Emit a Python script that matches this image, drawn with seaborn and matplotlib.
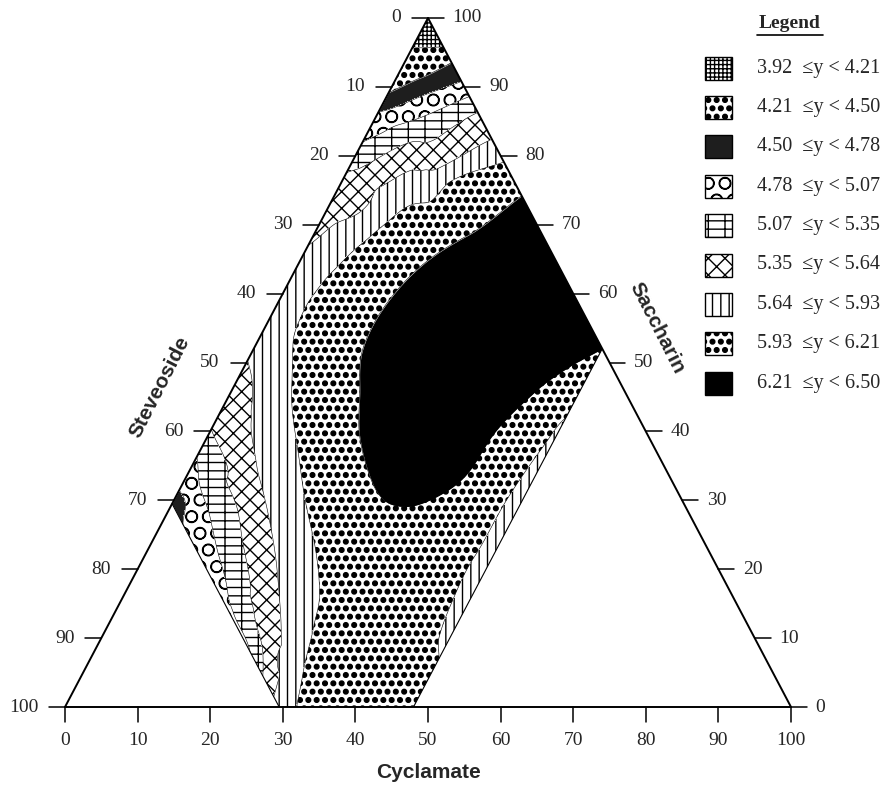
import numpy as np
import pandas as pd
import matplotlib
matplotlib.use("Agg")
import matplotlib.pyplot as plt
import matplotlib.tri as mtri
import matplotlib.hatch as mhatch
from matplotlib.patches import Rectangle
from matplotlib.lines import Line2D
import seaborn as sns

# Response bands of the legend (y = sweetness score)
LEVELS = [3.92, 4.21, 4.50, 4.78, 5.07, 5.35, 5.64, 5.93, 6.21, 6.50]
BAND_FACE = ["white", "white", "#1e1e1e", "white", "white", "white", "white", "white", "black"]
BAND_HATCH = ["++++", "..", None, "O", "--|", "xx", "||", "..", None]

# Design limits of the mixture region (percent)
CYC_MAX = 48.0
STEV_MAX = 70.5

# Points: (cyclamate %, saccharin %)
LINE_421 = [(0, 95.6), (2.1, 95.7), (4.2, 95.8)]
LINE_450 = [(0, 89.2), (3.3, 91.3), (6.5, 93.5)]
LINE_478 = [(0, 86.3), (4.5, 88.5), (9.2, 90.8),
            (0, 31.5), (1.5, 30.0), (3.0, 26.5)]
LINE_507 = [(0, 82.0), (5.7, 85.3), (11.4, 88.6),
            (0, 36.3), (2.6, 32.0), (6.1, 27.7), (9.5, 22.9), (13.0, 18.3),
            (16.5, 13.5), (21.5, 8.0)]
LINE_535 = [(0, 77.5), (6.7, 82.0), (13.7, 86.3),
            (0, 40.3), (4.9, 34.9), (9.4, 28.7), (12.6, 23.8), (16.5, 18.0),
            (20.5, 11.8), (23.3, 7.9), (25.0, 4.5)]
LINE_564 = [(0, 67.0), (4.7, 71.8), (12.2, 78.1), (17.6, 82.4),
            (0, 50.3), (2.0, 47.5), (6.8, 38.2), (13.5, 28.7), (19.2, 20.0),
            (22.5, 14.3), (25.7, 7.1), (28.0, 1.5)]
LINE_593 = [(20.9, 79.1), (14.9, 76.2), (11.1, 72.8), (8.9, 69.9), (7.1, 67.0),
            (5.3, 63.3), (4.3, 59.8), (4.2, 56.5), (5.1, 52.6), (6.9, 48.8),
            (9.3, 43.9), (13.1, 37.8), (18.7, 29.1), (23.7, 21.9), (27.0, 16.1),
            (28.5, 11.4), (30.3, 5.0), (31.9, 0),
            (48, 42), (47.0, 38), (45.8, 30), (45.5, 22), (45.7, 15), (46.5, 10), (48, 7)]
LINE_621 = [(25.8, 74.2), (21.2, 68.4), (17.5, 64.7), (15.3, 59.8), (14.7, 55.5),
            (15.1, 51.7), (17.6, 46.0), (21.0, 39.2), (26.2, 32.4), (30.0, 29.5),
            (32.5, 29.1), (35.9, 30.5), (38.6, 34.4), (39.3, 40.0), (42.0, 46.0),
            (44.2, 48.8)]

# Single readings inside bands and on the region border: (cyclamate, saccharin, y)
SPOT_VALUES = [
    (0, 100, 3.98), (0, 98, 4.06), (2.1, 97.9, 4.06),
    (0, 92.5, 4.35), (5.3, 94.7, 4.35), (0, 87.7, 4.64), (7.8, 92.2, 4.64),
    (0, 84.2, 4.92), (10.3, 89.7, 4.92), (0, 79.8, 5.21), (12.5, 87.5, 5.21),
    (0, 72.0, 5.50), (15.5, 84.5, 5.50), (0, 63, 5.80), (0, 58, 5.86), (0, 54, 5.80),
    (19.2, 80.8, 5.78), (23.3, 76.7, 6.07),
    (30, 70, 6.30), (35, 65, 6.35), (40, 60, 6.33), (44, 56, 6.28), (48, 52, 6.21),
    (48, 46, 6.05), (48, 30, 5.86), (48, 20, 5.85), (48, 3.5, 5.95), (48, 0, 5.98),
    (40, 0, 6.03), (29.5, 0, 5.72),
    (9, 20.5, 4.92), (15, 14.5, 5.02),
    (0, 29.5, 4.66), (0, 33.5, 4.93), (0, 38.3, 5.21), (0, 45, 5.50),
    (28, 55, 6.40), (22, 62, 6.33), (33, 47, 6.36), (27, 40, 6.30), (35, 38, 6.27),
    (20, 50, 6.30), (38, 55, 6.34),
    (38, 15, 6.06), (35, 24, 6.12), (42, 28, 6.08), (40, 8, 6.04), (30, 22, 6.08),
    (43.5, 40, 6.07), (10, 58, 6.07), (15, 70, 6.07), (13, 45, 6.07),
    (2, 58, 5.89), (22, 21, 5.78), (16, 29, 5.78), (8.7, 40, 5.78), (26.6, 10, 5.78),
    (4, 68, 5.78), (12.5, 76, 5.78),
    (8, 33, 5.50), (20, 15, 5.50), (15, 17.5, 5.21),
]

TICKS = list(range(0, 101, 10))

sns.set_style("white")
plt.rcParams["font.family"] = ["Liberation Serif", "DejaVu Serif"]
plt.rcParams["hatch.linewidth"] = 1.0
plt.rcParams["hatch.color"] = "black"
# bigger filled dots for the '.' hatch, closer to the printed dot screen
mhatch.SmallFilledCircles.size = 0.28

# gather everything in one table
frames = []
for lvl, pts in [(4.21, LINE_421), (4.50, LINE_450), (4.78, LINE_478), (5.07, LINE_507),
                 (5.35, LINE_535), (5.64, LINE_564), (5.93, LINE_593), (6.21, LINE_621)]:
    d = pd.DataFrame(pts, columns=["cyc", "sac"])
    d["y"] = lvl
    frames.append(d)
frames.append(pd.DataFrame(SPOT_VALUES, columns=["cyc", "sac", "y"]))
data = pd.concat(frames, ignore_index=True).drop_duplicates(["cyc", "sac"])

# ternary -> cartesian (x along Cyclamate axis, height = Saccharin)
data["px"] = data["cyc"] + data["sac"] / 2
data["py"] = data["sac"]

tri = mtri.Triangulation(data["px"].values, data["py"].values)
z = data["y"].values
interp = mtri.CubicTriInterpolator(tri, z, kind="geom")
refiner = mtri.UniformTriRefiner(tri)
tri_f, z_f = refiner.refine_field(z, triinterpolator=interp, subdiv=4)
z_f = np.clip(z_f, LEVELS[0] + 0.005, LEVELS[-1] - 0.005)

fig = plt.figure(figsize=(8.88, 7.88), dpi=100)
ax = fig.add_axes([65 / 888, 1 - 707 / 788, 726 / 888, 689 / 788])
ax.set_xlim(0, 100)
ax.set_ylim(0, 100)
ax.axis("off")

cs = ax.tricontourf(tri_f, z_f, levels=LEVELS, colors=BAND_FACE, hatches=BAND_HATCH)
# hatch colour follows the edge colour; keep the edge itself invisible
cs.set_edgecolor("black")
cs.set_linewidth(0)
ax.tricontour(tri_f, z_f, levels=LEVELS[1:-1], colors="black", linewidths=0.4)

# triangle and design-region borders
ax.plot([0, 100, 50, 0], [0, 0, 100, 0], color="black", lw=1.4, clip_on=False)
ax.plot([(100 - STEV_MAX) / 2, 100 - STEV_MAX], [100 - STEV_MAX, 0], color="black", lw=0.8)
ax.plot([CYC_MAX, CYC_MAX + (100 - CYC_MAX) / 2], [0, 100 - CYC_MAX], color="black", lw=0.8)

num_font = dict(fontsize=14, family=["Liberation Serif", "DejaVu Serif"])
# Cyclamate (bottom)
for v in TICKS:
    ax.plot([v, v], [0, -2.2], color="black", lw=1.1, clip_on=False)
    ax.text(v, -3.6, str(v), ha="center", va="top", **num_font)
# Steveoside (left edge, 0 at top)
for v in TICKS:
    s = 100 - v
    x0 = s / 2
    ax.plot([x0 - 2.2, x0], [s, s], color="black", lw=1.1, clip_on=False)
    ax.text(x0 - 3.7, s, str(v), ha="right", va="center", **num_font)
# Saccharin (right edge, 0 at bottom)
for v in TICKS:
    x0 = 100 - v / 2
    ax.plot([x0, x0 + 2.2], [v, v], color="black", lw=1.1, clip_on=False)
    ax.text(x0 + 3.4, v, str(v), ha="left", va="center", **num_font)

title_font = dict(fontsize=15, fontweight="bold", family=["Liberation Sans", "DejaVu Sans"])
ax.text(50, -9.5, "Cyclamate", ha="center", va="center", **title_font)
ax.text(13.0, 46.5, "Steveoside", ha="center", va="center", rotation=63, **title_font)
ax.text(81.5, 55.0, "Saccharin", ha="center", va="center", rotation=-63, **title_font)

# legend block at the right
def fx(p):
    return p / 888

def fy(p):
    return 1 - p / 788

fig.text(fx(790), fy(24), "Legend", ha="center", va="center", fontsize=14,
         fontweight="bold", family=["Liberation Serif", "DejaVu Serif"])
fig.add_artist(Line2D([fx(757), fx(823)], [fy(35), fy(35)], color="black", lw=1.2))
for i in range(len(LEVELS) - 1):
    yc = 68 + 39.4 * i
    fig.add_artist(Rectangle((fx(705), fy(yc + 11.5)), fx(27), 23 / 788,
                             facecolor=BAND_FACE[i], edgecolor="black", lw=1.0,
                             hatch=BAND_HATCH[i], transform=fig.transFigure))
    fig.text(fx(757), fy(yc), f"{LEVELS[i]:.2f}  \u2264y < {LEVELS[i + 1]:.2f}",
             ha="left", va="center", fontsize=14.5,
             family=["Liberation Serif", "DejaVu Serif"])

fig.savefig("out.png", dpi=100)
